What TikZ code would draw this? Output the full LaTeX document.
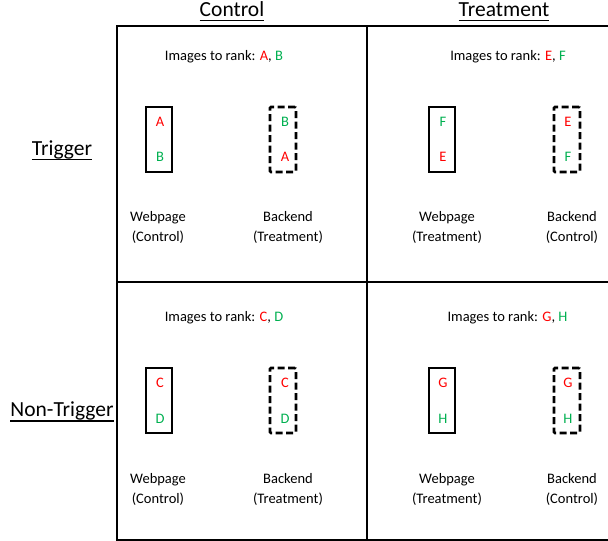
\documentclass[tikz,border=0pt]{standalone}
\usepackage{fontspec}
\setmainfont{Carlito}
\definecolor{imgred}{HTML}{FF0000}
\definecolor{imggreen}{HTML}{00B050}
\begin{document}
\begin{tikzpicture}[x=1pt,y=-1pt,
  grid/.style={line width=2.5pt},
  page/.style={draw,line width=2.6pt,minimum width=26pt,minimum height=65pt,inner sep=0pt},
  backend/.style={page,dash pattern=on 7pt off 3.5pt,rounded corners=1pt},
  letter/.style={inner sep=0pt,font=\fontsize{14.5}{17}\selectfont},
  rank/.style={inner sep=0pt,font=\fontsize{14.5}{17}\selectfont},
  lbl/.style={inner sep=0pt,align=center,font=\fontsize{14.5}{20}\selectfont},
  head/.style={inner sep=0pt,anchor=base,font=\fontsize{21.5}{24}\selectfont},
  uline/.style={line width=1.3pt}]
\useasboundingbox (0,0) rectangle (608,541);
% grid
\coordinate (tl) at (117,26);
\coordinate (tr) at (609,26);
\coordinate (bl) at (117,540);
\coordinate (br) at (609,540);
\coordinate (mt) at (367,26);
\coordinate (mb) at (367,540);
\coordinate (ml) at (117,282);
\coordinate (mr) at (609,282);
\draw[grid] (tr) -- (tl) -- (bl) -- (br);
\draw[grid] (mt) -- (mb);
\draw[grid] (ml) -- (mr);
% headings
\node[head] (hc) at (232,16) {Control};
\node[head] (ht) at (504,16) {Treatment};
\node[head] (htr) at (62,155) {Trigger};
\node[head] (hnt) at (62,416.5) {Non-Trigger};
\foreach \h in {hc,ht,htr,hnt}
  \draw[uline] ([yshift=-4.5pt]\h.base west) -- ([yshift=-4.5pt]\h.base east);
% ---- top-left
\node[rank] (r1) at (224,57) {Images to rank: \textcolor{imgred}{A}, \textcolor{imggreen}{B}};
\node[page] (w1) at (159,139.5) {};
\node[letter,text=imgred] (w1a) at (160,122) {A};
\node[letter,text=imggreen] (w1b) at (160,157) {B};
\node[backend] (b1) at (283,139.5) {};
\node[letter,text=imggreen] (b1a) at (285,122) {B};
\node[letter,text=imgred] (b1b) at (285,157) {A};
\node[lbl] (lw1) at (158,227) {Webpage\\(Control)};
\node[lbl] (lb1) at (288,227) {Backend\\(Treatment)};
% ---- top-right
\node[rank] (r2) at (508,57) {Images to rank: \textcolor{imgred}{E}, \textcolor{imggreen}{F}};
\node[page] (w2) at (442,139.5) {};
\node[letter,text=imggreen] (w2a) at (443,122) {F};
\node[letter,text=imgred] (w2b) at (443,157) {E};
\node[backend] (b2) at (567,139.5) {};
\node[letter,text=imgred] (b2a) at (568,122) {E};
\node[letter,text=imggreen] (b2b) at (568,157) {F};
\node[lbl] (lw2) at (447,227) {Webpage\\(Treatment)};
\node[lbl] (lb2) at (572,227) {Backend\\(Control)};
% ---- bottom-left
\node[rank] (r3) at (224,318) {Images to rank: \textcolor{imgred}{C}, \textcolor{imggreen}{D}};
\node[page] (w3) at (159,400.5) {};
\node[letter,text=imgred] (w3a) at (160,383) {C};
\node[letter,text=imggreen] (w3b) at (160,419) {D};
\node[backend] (b3) at (283,400.5) {};
\node[letter,text=imgred] (b3a) at (285,383) {C};
\node[letter,text=imggreen] (b3b) at (285,419) {D};
\node[lbl] (lw3) at (158,489) {Webpage\\(Control)};
\node[lbl] (lb3) at (288,489) {Backend\\(Treatment)};
% ---- bottom-right
\node[rank] (r4) at (507.5,318) {Images to rank: \textcolor{imgred}{G}, \textcolor{imggreen}{H}};
\node[page] (w4) at (442,400.5) {};
\node[letter,text=imgred] (w4a) at (443,383) {G};
\node[letter,text=imggreen] (w4b) at (443,419) {H};
\node[backend] (b4) at (567,400.5) {};
\node[letter,text=imgred] (b4a) at (568,383) {G};
\node[letter,text=imggreen] (b4b) at (568,419) {H};
\node[lbl] (lw4) at (447,489) {Webpage\\(Treatment)};
\node[lbl] (lb4) at (572,489) {Backend\\(Control)};
\end{tikzpicture}
\end{document}
